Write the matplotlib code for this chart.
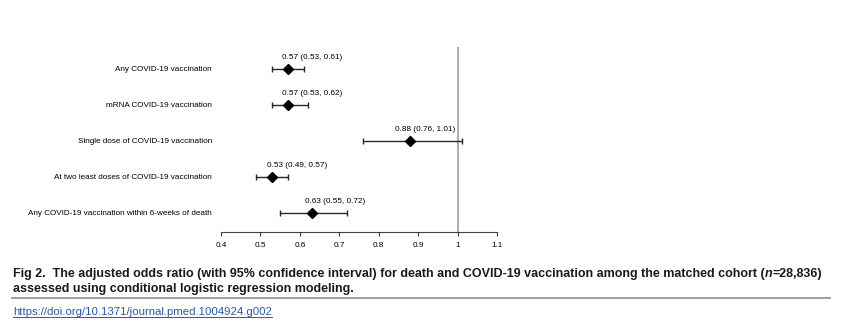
import matplotlib
matplotlib.use('Agg')
import matplotlib.pyplot as plt
from matplotlib.lines import Line2D

plt.rcParams['font.family'] = ['Liberation Sans', 'DejaVu Sans']

# odds ratios with 95% CI, top row first
labels = ['Any COVID-19 vaccination',
          'mRNA COVID-19 vaccination',
          'Single dose of COVID-19 vaccination',
          'At two least doses of COVID-19 vaccination',
          'Any COVID-19 vaccination within 6-weeks of death']
odds = [0.57, 0.57, 0.88, 0.53, 0.63]
lower = [0.53, 0.53, 0.76, 0.49, 0.55]
upper = [0.61, 0.62, 1.01, 0.57, 0.72]
xticks = [0.4, 0.5, 0.6, 0.7, 0.8, 0.9, 1.0, 1.1]
xticklabels = ['0.4', '0.5', '0.6', '0.7', '0.8', '0.9', '1', '1.1']

# horizontal nudge of each value label (points)
label_nudge = [-4.3, -4.3, -10.8, -3.6, -5.0]

fig = plt.figure(figsize=(8.43, 3.28), dpi=100)
ax = fig.add_axes([221/843, 1 - 232/328, 276/843, 185/328])

ypos = list(range(len(labels), 0, -1))
err = [[o - l for o, l in zip(odds, lower)], [u - o for o, u in zip(odds, upper)]]

ax.axvline(1.0, color='#a6a6a6', lw=1.3, zorder=1)
ax.errorbar(odds, ypos, xerr=err, fmt='D', color='black', ecolor='#262626',
            ms=4.8, elinewidth=1.0, capsize=2.5, capthick=1.0, zorder=3)

for o, l, u, y, dx in zip(odds, lower, upper, ypos, label_nudge):
    ax.annotate(f'{o:.2f} ({l:.2f}, {u:.2f})', xy=(o, y), xytext=(dx, 8),
                textcoords='offset points', ha='left', va='center', fontsize=5.9)

ax.set_xlim(0.4, 1.1)
ax.set_ylim(0.47, 5.61)
ax.set_xticks(xticks)
ax.set_xticklabels(xticklabels, fontsize=5.9)
ax.set_yticks(ypos)
ax.set_yticklabels(labels, fontsize=5.9)
ax.tick_params(axis='y', length=0, pad=6.5)
ax.tick_params(axis='x', length=3, width=0.8, color='#404040', pad=4)
for side in ['left', 'right', 'top']:
    ax.spines[side].set_visible(False)
ax.spines['bottom'].set_color('#404040')
ax.spines['bottom'].set_linewidth(0.8)

# caption
cap = dict(fontsize=9, fontweight='bold', color='#1a1a1a',
           family=['Liberation Sans Narrow', 'Liberation Sans', 'DejaVu Sans'])
t1 = fig.text(13/843, 1 - 277/328, 'Fig 2.  The adjusted odds ratio (with 95% confidence interval) '
              'for death and COVID-19 vaccination among the matched cohort (', va='baseline', **cap)
t2 = ax.annotate('n', xy=(1, 0), xycoords=t1, va='bottom', ha='left', fontstyle='italic',
                 annotation_clip=False, **cap)
ax.annotate('=28,836)', xy=(1, 0), xycoords=t2, va='bottom', ha='left',
            annotation_clip=False, **cap)
fig.text(13/843, 1 - 292/328, 'assessed using conditional logistic regression modeling.',
         va='baseline', **cap)

fig.add_artist(Line2D([12/843, 830/843], [1 - 298/328] * 2, color='#8c8c8c', lw=1.2))

link = fig.text(13/843, 1 - 315/328, 'https://doi.org/10.1371/journal.pmed.1004924.g002',
                fontsize=8.2, color='#2a5aa8', va='baseline',
                family=['Liberation Sans Narrow', 'Liberation Sans', 'DejaVu Sans'])
# underline the link across its rendered width
fig.canvas.draw()
bb = link.get_window_extent().transformed(fig.transFigure.inverted())
fig.add_artist(Line2D([bb.x0, bb.x1], [1 - 317/328] * 2, color='#2a5aa8', lw=0.7))

fig.savefig('out.png', dpi=100)
